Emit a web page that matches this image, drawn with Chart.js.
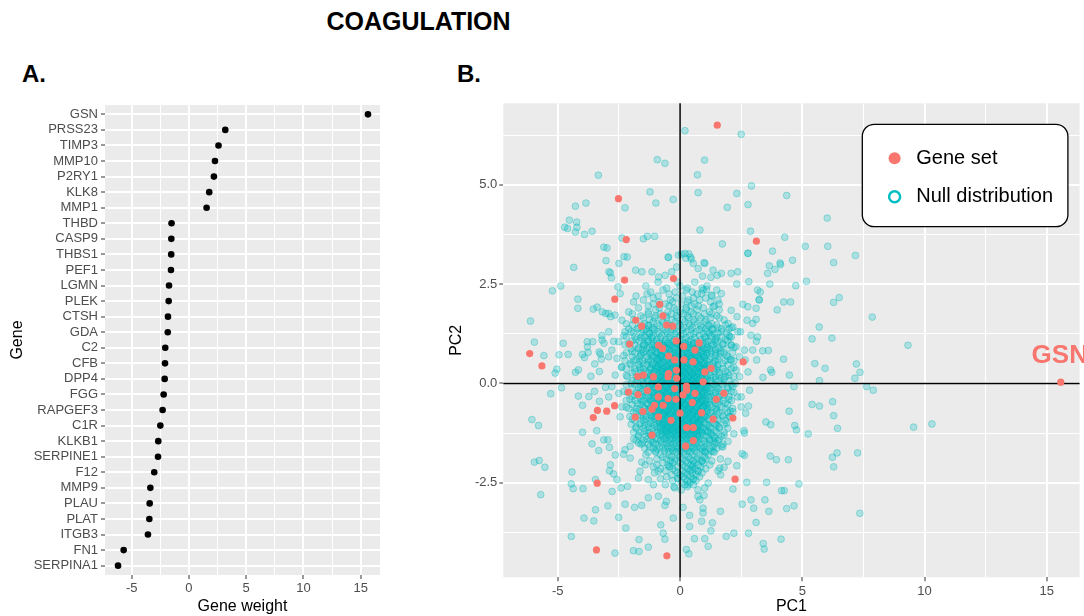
<!DOCTYPE html>
<html><head><meta charset="utf-8">
<script src="https://cdn.jsdelivr.net/npm/chart.js@4.4.1/dist/chart.umd.min.js"></script>
<style>
html,body{margin:0;padding:0;background:#fff;width:1084px;height:616px;overflow:hidden;position:relative;font-family:'Liberation Sans',Arial,sans-serif}
#title{position:absolute;left:0;width:837px;top:7px;text-align:center;font-weight:bold;font-size:25px;line-height:29px;color:#000}
.tag{position:absolute;top:60px;font-weight:bold;font-size:24px;line-height:28px;color:#000}
#cA{position:absolute;left:0;top:90px}
#cB{position:absolute;left:420px;top:90px}
</style></head>
<body>
<div id="title">COAGULATION</div>
<div class="tag" style="left:22px">A.</div>
<div class="tag" style="left:457px">B.</div>
<canvas id="cA" width="400" height="526" style="width:400px;height:526px"></canvas>
<canvas id="cB" width="664" height="526" style="width:664px;height:526px"></canvas>
<script>
// ---------- Panel A data ----------
const genes = ['GSN','PRSS23','TIMP3','MMP10','P2RY1','KLK8','MMP1','THBD','CASP9','THBS1','PEF1','LGMN','PLEK','CTSH','GDA','C2','CFB','DPP4','FGG','RAPGEF3','C1R','KLKB1','SERPINE1','F12','MMP9','PLAU','PLAT','ITGB3','FN1','SERPINA1'];
const weights = [15.63,3.17,2.58,2.27,2.18,1.77,1.54,-1.52,-1.54,-1.55,-1.57,-1.74,-1.77,-1.83,-1.85,-2.07,-2.09,-2.12,-2.21,-2.30,-2.50,-2.68,-2.70,-3.03,-3.37,-3.43,-3.46,-3.58,-5.70,-6.19];
const weightTicks = [-5,-2.5,0,2.5,5,7.5,10,12.5,15];

// ---------- Panel B data ----------
const pc1Ticks = [-5,-2.5,0,2.5,5,7.5,10,12.5,15];
const pc2Ticks = [-3.75,-2.5,-1.25,0,1.25,2.5,3.75,5,6.25];
const geneSetPoints = [
[1.52,6.50],[-2.52,4.65],[-2.20,3.62],[3.12,3.58],[-2.27,2.60],[-0.27,2.64],[-2.67,2.12],[-0.83,1.99],[-0.70,1.70],[-1.81,1.59],[-1.57,1.44],[-0.55,1.47],[-0.30,1.44],[-0.16,1.07],[-2.06,0.99],[0.78,1.02],[0.61,0.84],[-0.88,0.96],[-0.72,0.88],[0.15,0.93],[-0.47,0.69],
[-6.15,0.75],[-5.65,0.44],[2.58,0.54],[15.57,0.03],
[-0.22,0.59],[0.16,0.59],[0.53,0.54],[1.27,0.38],[1.01,0.29],[-0.15,0.33],[-0.47,0.25],[-0.49,0.17],[-1.09,0.17],[-1.73,0.18],[-1.50,0.21],[0.94,0.04],[-0.14,0.13],[-0.89,-0.09],[-0.22,-0.13],[0.26,-0.07],[-2.11,-0.22],[-1.72,-0.28],[-1.34,-0.18],[-0.89,-0.34],[-0.49,-0.38],[-0.17,-0.40],[0.12,-0.29],[0.27,-0.17],[0.61,-0.25],[0.50,-0.48],[1.48,-0.40],[1.79,-0.25],[-0.69,-0.55],[-1.05,-0.55],[-1.52,-0.71],[-1.15,-0.65],[-1.83,-0.85],[-0.88,-0.84],[-0.37,-0.93],[0.0,-0.75],[0.88,-0.74],[1.35,-0.90],[2.16,-0.87],[-1.15,-1.30],[0.27,-1.11],[0.54,-1.11],[0.23,-1.58],[0.54,-1.44],[-2.68,-0.56],[-3.00,-0.70],[-3.38,-0.68],[-3.55,-0.86],[-3.39,-2.51],[-3.42,-4.19],[-0.54,-4.34],[2.25,-2.41]
];
// scattered null-distribution points read one by one
const nullOuter = [
[0.20,6.36],[-0.93,5.63],[-0.62,5.54],[-3.34,5.24],[0.71,5.25],[-1.23,4.82],[0.74,4.80],[-3.85,4.54],[-0.99,4.54],[-0.28,4.63],[-4.28,4.46],[-2.25,4.42],[-4.53,4.11],[-4.72,3.93],[-4.22,3.93],[-4.28,3.81],[-3.91,3.75],[-3.60,3.83],[-2.38,3.66],[-1.50,3.64],[-1.34,3.70],[-1.04,3.70],[-3.12,3.43],[-2.99,3.41],[-3.03,3.09],[-2.29,3.19],[-0.49,3.17],[0.06,3.25],[0.36,3.26],[0.23,3.15],[0.46,3.13],[0.81,3.86],[-4.60,3.90],[-4.23,4.06],
[2.50,6.27],[1.00,5.62],[2.92,4.97],[2.32,4.78],[4.36,4.73],[1.93,4.43],[2.78,4.50],[6.02,4.16],[2.88,3.83],[4.28,3.68],[1.73,3.51],[3.78,3.33],[5.12,3.45],[6.04,3.45],[2.78,3.28],[4.60,3.10],[7.17,3.22],[6.28,3.04],[4.09,3.03],[0.98,3.04],
[-4.35,2.92],[-2.85,2.78],[-2.81,2.66],[-5.22,2.33],[-4.88,2.45],[-4.18,2.12],[-4.18,1.89],[-3.55,1.87],[-3.39,1.92],[-3.18,1.80],[-2.92,1.76],[-2.66,1.72],[-2.38,1.59],[-6.12,1.57],[-5.96,1.04],[-4.78,1.01],[-5.57,0.70],[-4.95,0.72],[-4.58,0.73],[-3.80,1.05],[-3.57,1.05],[-3.76,0.78],[-3.91,0.65],[-3.26,0.74],[-3.22,0.61],[-2.92,0.67],[-3.49,0.49],[-4.16,0.34],[-4.28,0.28],[-5.04,0.36],[-5.11,0.26],[-3.65,0.18],[-2.92,1.30],[-2.72,1.06],[-2.51,1.05],[-2.25,1.30],[-4.85,-0.11],[-5.29,-0.26],[-4.16,-0.32],[-3.99,-0.55],[-3.73,-0.33],[-6.06,-0.91],[-2.54,2.43],[-2.45,2.26],[-3.20,1.20],
[-3.19,1.09],[-2.79,0.84],[-2.58,0.63],[-2.38,0.42],[-2.65,0.21],[-2.79,-0.08],[-2.51,-0.25],[-2.92,-0.34],[-2.38,-0.59],[-2.45,-0.84],[-3.30,0.30],[-3.05,-0.10],[-3.50,-0.20],[-3.30,-0.45],
[-0.47,3.18],[-0.07,3.23],[0.20,3.27],[0.43,3.18],[0.54,3.02],[0.74,2.89],[1.01,3.02],[-1.15,2.81],[-0.88,2.68],[-0.61,2.72],[-0.34,2.81],[-0.14,2.93],[-1.56,2.81],[-1.82,2.85],[-2.16,3.18],[-2.50,3.02],[-2.91,2.81],[1.35,2.85],[1.69,2.77],[2.09,2.77],[2.36,2.81],[2.77,3.27],[3.17,2.35],[3.24,2.10],[3.11,1.89],
[-3.04,1.76],[-2.84,1.68],[-3.99,0.73],[-3.79,0.92],[-3.31,0.79],[-3.11,1.01],
[0.88,2.26],[1.08,2.36],[1.28,2.22],[1.55,2.10],[1.35,1.93],[1.69,2.26],[2.09,1.84],[2.33,1.68],[1.96,1.51],[2.16,1.42],[2.36,1.30],[2.03,1.17],[2.09,0.96],[2.29,0.92],[2.43,0.67],[2.09,0.59],[2.29,0.33],[2.43,0.17],[2.16,-0.08],[2.36,-0.34],[2.50,-0.59],[2.16,-0.71],[2.03,-0.84],[2.63,0.84],[2.97,0.84],[2.90,1.21],[3.17,1.17],
[3.65,2.96],[4.11,2.99],[3.88,2.87],[3.58,2.77],[1.52,2.72],[1.26,2.67],[0.92,2.70],[2.81,2.56],[2.32,2.50],[3.67,2.50],[4.73,2.46],[5.17,2.57],[3.28,2.30],[3.23,2.11],[4.24,2.05],[4.52,2.05],[6.28,2.04],[6.51,2.16],[7.86,1.67],[3.97,1.85],[5.69,1.42],[5.40,1.12],[6.21,1.14],[3.12,1.06],[3.38,0.82],[3.61,0.83],[4.23,0.61],[5.51,0.50],[5.93,0.38],[7.21,0.49],[7.36,0.28],[7.15,0.13],[5.70,0.07],[4.47,0.21],[3.75,0.28],[3.70,0.34],[4.66,-0.08],[7.63,-0.08],[7.90,-0.17],[5.40,-0.53],[5.70,-0.57],[6.24,-0.46],[6.28,-0.81],[4.46,-0.70],[2.80,-0.57],[2.68,-0.75],[3.39,0.15],[2.66,0.59],[3.13,0.59],[2.78,0.29],[2.84,-0.17],[2.50,-0.34],[2.74,1.59],[2.97,1.51],[3.11,1.61],[2.47,1.30],[2.57,1.99],[2.77,1.93],
[9.32,0.96],[9.55,-1.10],[10.30,-1.02],
[-5.79,-1.06],[-3.99,-1.23],[-3.41,-1.19],[-3.60,-1.52],[-3.33,-1.69],[-3.12,-1.42],[-2.95,-1.42],[-2.89,-1.61],[-2.65,-1.80],[-2.31,-1.78],[-5.96,-1.98],[-5.76,-1.94],[-5.53,-2.11],[-4.42,-2.23],[-4.45,-2.53],[-4.37,-2.65],[-3.97,-2.65],[-5.70,-2.80],[-3.46,-2.42],[-2.85,-2.05],[-2.89,-2.20],[-2.72,-2.28],[-2.58,-2.42],[-2.78,-2.72],[-2.41,-2.63],[-2.15,-2.59],[-3.46,-3.18],[-3.93,-3.39],[-3.53,-3.46],[-2.95,-3.08],[-2.51,-3.37],[-2.22,-3.64],[-2.25,-3.04],[-1.86,-3.12],[-1.57,-3.07],[-4.45,-3.85],[-2.66,-4.27],[-1.91,-4.21],[-1.68,-4.23],[-1.68,-3.93],[-1.30,-4.12],[-0.79,-3.56],[-0.69,-3.77],[-0.62,-3.92],[-0.28,-3.39],[-1.30,-2.88],[-0.89,-2.84],[-0.62,-3.07],[-0.56,-2.97],[0.26,-4.18],[0.36,-4.29],[0.12,-3.12],[0.39,-3.32],[0.39,-3.60],[0.59,-3.91],[0.73,-2.84],[-1.70,-2.38],[-1.30,-2.42],[-1.09,-2.55],[-0.89,-2.21],[-1.64,-2.21],[-1.43,-2.05],[-1.57,-1.98],[-2.04,-1.88],[-2.25,-1.67],[-2.04,-1.58],[-1.90,-1.40],[-1.70,-1.50],[-0.08,-2.38],[-0.22,-2.63],[0.05,-2.68],[0.32,-2.55],[0.53,-2.42],[0.73,-2.68],[0.46,-2.17],[0.53,-2.05],[0.73,-2.21],[-0.22,-1.96],[-0.42,-2.09],
[3.51,-0.97],[3.71,-1.04],[4.69,-1.06],[4.76,-1.17],[5.24,-1.27],[6.44,-1.13],[2.61,-1.19],[2.63,-1.25],[2.20,-1.27],[2.54,-1.77],[2.63,-1.81],[3.69,-1.83],[3.94,-1.92],[4.43,-1.92],[6.23,-1.86],[6.42,-1.75],[7.26,-1.75],[6.28,-2.10],[2.32,-2.07],[1.65,-1.90],[1.80,-2.11],[1.66,-2.30],[1.55,-2.20],[1.15,-2.51],[1.01,-2.63],[0.98,-2.82],[0.81,-2.93],[2.16,-2.66],[2.73,-2.49],[3.54,-2.49],[4.15,-2.70],[4.26,-2.70],[4.86,-2.53],[2.90,-2.93],[3.47,-2.93],[2.54,-3.04],[3.01,-3.14],[3.63,-3.22],[4.36,-3.15],[4.66,-3.08],[7.35,-3.27],[3.11,-3.50],[2.80,-3.77],[2.20,-3.77],[1.89,-3.85],[0.94,-3.14],[0.94,-3.26],[0.88,-3.47],[1.32,-3.51],[1.26,-3.71],[1.01,-3.91],[1.15,-4.10],[3.40,-4.03],[3.44,-4.17],[4.13,-3.92],[1.65,-3.22],
[1.15,-1.21],[1.42,-1.38],[1.69,-1.58],[1.96,-1.46],[1.01,-1.71],[1.35,-1.71],[0.88,-1.96],[1.22,-2.05],[1.62,-2.13],[1.96,-1.96]
];
// dense core of the null distribution: each row is [PC2, PC1, PC1, ...]
const nullCoreRows = [
[2.4,-0.55,0.3,0.9],[2.3,-1.2,-0.2,0.5],[2.2,-1.8,-0.9,0.1,1.3],[2.1,-1.5,-0.4,0.35,0.8],[2.0,-1.1,-0.6,0.05,0.6,1.6],
[1.9,-1.7,-0.85,-0.25,0.25,0.95],[1.8,-2.1,-1.3,-0.5,0.0,0.45,1.2],[1.7,-1.6,-1.0,-0.6,-0.15,0.3,0.75,1.5],
[1.6,-1.9,-1.25,-0.75,-0.35,0.1,0.55,1.05,1.8],[1.5,-2.2,-1.45,-0.95,-0.5,-0.05,0.35,0.7,1.3],
[1.4,-1.7,-1.15,-0.7,-0.3,0.15,0.5,0.9,1.55,2.1],[1.3,-2.0,-1.35,-0.9,-0.55,-0.15,0.25,0.65,1.1,1.7],
[1.2,-2.3,-1.55,-1.1,-0.75,-0.4,0.0,0.4,0.8,1.25,2.0],[1.1,-1.8,-1.3,-0.95,-0.6,-0.25,0.1,0.45,0.85,1.45,1.85],
[1.0,-2.1,-1.5,-1.05,-0.7,-0.45,-0.1,0.2,0.55,0.95,1.3,1.75],[0.9,-1.7,-1.25,-0.85,-0.55,-0.2,0.1,0.35,0.7,1.1,1.6,2.2],
[0.8,-1.95,-1.4,-1.0,-0.65,-0.35,-0.05,0.25,0.6,0.9,1.25,1.65],[0.7,-2.3,-1.6,-1.15,-0.8,-0.5,-0.2,0.1,0.4,0.75,1.05,1.45,1.9],
[0.6,-1.8,-1.3,-0.95,-0.65,-0.3,0.0,0.25,0.55,0.85,1.2,1.55,2.05],[0.5,-2.05,-1.5,-1.1,-0.8,-0.45,-0.15,0.15,0.45,0.7,1.0,1.35,1.75],
[0.4,-2.4,-1.65,-1.2,-0.9,-0.6,-0.3,0.0,0.3,0.6,0.9,1.2,1.55,2.2],[0.3,-1.85,-1.4,-1.05,-0.75,-0.45,-0.15,0.15,0.4,0.75,1.05,1.4,1.85],
[0.2,-2.2,-1.55,-1.2,-0.9,-0.6,-0.3,0.05,0.3,0.55,0.9,1.25,1.6,2.0],[0.1,-1.75,-1.35,-1.0,-0.7,-0.4,-0.1,0.2,0.45,0.75,1.1,1.45,1.8],
[0.0,-2.0,-1.5,-1.15,-0.85,-0.55,-0.25,0.05,0.35,0.65,0.95,1.3,1.7,2.25],[-0.1,-1.7,-1.3,-1.0,-0.7,-0.4,-0.1,0.2,0.5,0.8,1.15,1.5,1.95],
[-0.2,-2.3,-1.55,-1.2,-0.9,-0.6,-0.3,0.0,0.3,0.6,0.9,1.25,1.65,2.1],[-0.3,-1.85,-1.4,-1.05,-0.75,-0.45,-0.15,0.15,0.45,0.75,1.05,1.4,1.8],
[-0.4,-2.05,-1.6,-1.25,-0.9,-0.6,-0.3,0.0,0.3,0.6,0.9,1.2,1.55,2.0],[-0.5,-1.75,-1.35,-1.05,-0.75,-0.45,-0.15,0.15,0.45,0.75,1.1,1.45,1.85],
[-0.6,-2.2,-1.5,-1.2,-0.9,-0.6,-0.3,0.05,0.35,0.65,0.95,1.3,1.7],[-0.7,-1.8,-1.35,-1.0,-0.7,-0.4,-0.1,0.2,0.5,0.8,1.1,1.5,2.05],
[-0.8,-1.6,-1.2,-0.85,-0.55,-0.25,0.05,0.35,0.65,0.95,1.3,1.75],[-0.9,-1.95,-1.4,-1.05,-0.7,-0.4,-0.1,0.2,0.5,0.8,1.15,1.55],
[-1.0,-1.6,-1.2,-0.85,-0.55,-0.25,0.1,0.4,0.7,1.0,1.4,1.9],[-1.1,-1.8,-1.3,-0.95,-0.65,-0.35,-0.05,0.25,0.55,0.85,1.2,1.6],
[-1.2,-1.45,-1.05,-0.75,-0.45,-0.15,0.15,0.45,0.75,1.05,1.45],[-1.3,-1.7,-1.2,-0.85,-0.55,-0.25,0.05,0.35,0.65,0.95,1.3,1.8],
[-1.4,-1.35,-0.95,-0.65,-0.35,-0.05,0.25,0.55,0.85,1.2,1.6],[-1.5,-1.55,-1.1,-0.75,-0.45,-0.15,0.15,0.45,0.75,1.05,1.45],
[-1.6,-1.25,-0.85,-0.5,-0.2,0.1,0.4,0.7,1.0,1.35,1.75],[-1.7,-1.0,-0.65,-0.3,0.0,0.3,0.6,0.9,1.25],
[-1.8,-1.4,-0.8,-0.45,-0.1,0.2,0.5,0.8,1.15],[-1.9,-0.95,-0.55,-0.2,0.1,0.4,0.7,1.05],
[-2.0,-0.7,-0.3,0.0,0.3,0.6,0.95],[-2.1,-1.1,-0.45,-0.1,0.2,0.5,0.85],[-2.2,-0.6,-0.2,0.1,0.4,0.75],
[-2.3,-0.35,0.0,0.3,0.65],[-2.4,-0.8,-0.1,0.2,0.55],[-2.5,0.05,0.4],[-2.6,-0.25,0.3],
[0.85,-1.55,-1.15,-0.8,-0.45,-0.1,0.2,0.5,0.8,1.1,1.45],[0.65,-1.0,-0.7,-0.4,-0.05,0.2,0.45,0.7,1.0],[0.45,-1.0,-0.7,-0.5,-0.2,0.05,0.25,0.5,0.8,1.1],
[0.25,-1.1,-0.85,-0.55,-0.25,0.0,0.25,0.5,0.7,0.95],[0.05,-1.05,-0.8,-0.5,-0.2,0.1,0.3,0.55,0.8,1.0],
[-0.15,-1.0,-0.75,-0.45,-0.2,0.1,0.35,0.6,0.85,1.05],[-0.35,-1.1,-0.85,-0.55,-0.3,-0.05,0.2,0.5,0.7,0.95],
[-0.55,-0.95,-0.6,-0.3,0.0,0.25,0.5,0.8,1.05],[-0.75,-1.0,-0.7,-0.45,-0.15,0.1,0.35,0.6,0.9],
[-0.95,-0.85,-0.55,-0.25,0.05,0.35,0.6,0.85],[-1.15,-0.7,-0.4,-0.1,0.2,0.5,0.75],[-1.35,-0.55,-0.2,0.1,0.4,0.7],
[1.55,-1.1,-0.7,-0.2,0.2,0.6,1.0],[1.45,-1.3,-0.85,-0.4,0.0,0.4,0.85,1.2],[1.35,-1.5,-1.05,-0.6,-0.25,0.1,0.45,0.8,1.3],
[1.25,-1.25,-0.85,-0.5,-0.2,0.15,0.55,0.95,1.4],[1.15,-1.6,-1.15,-0.8,-0.45,-0.1,0.25,0.6,1.05,1.5],
[1.05,-1.35,-0.95,-0.6,-0.3,0.0,0.35,0.7,1.05,1.45],[0.95,-1.5,-1.1,-0.75,-0.4,-0.05,0.25,0.55,0.9,1.3],
[0.75,-1.6,-1.25,-0.95,-0.65,-0.35,-0.05,0.3,0.6,0.95,1.3,1.65],[0.55,-1.65,-1.3,-0.95,-0.6,-0.25,0.1,0.4,0.65,1.0,1.4],
[0.35,-1.6,-1.25,-0.95,-0.65,-0.35,-0.05,0.25,0.55,0.85,1.15,1.5],[0.15,-1.7,-1.35,-1.05,-0.75,-0.45,-0.15,0.15,0.45,0.7,1.0,1.35,1.7],
[-0.05,-1.6,-1.25,-0.95,-0.65,-0.35,-0.05,0.25,0.5,0.8,1.1,1.45],[-0.25,-1.7,-1.35,-1.05,-0.7,-0.4,-0.1,0.2,0.45,0.7,1.0,1.35,1.7],
[-0.45,-1.55,-1.2,-0.85,-0.55,-0.25,0.05,0.35,0.65,0.95,1.25,1.6],[-0.65,-1.65,-1.3,-1.0,-0.65,-0.35,-0.05,0.25,0.55,0.85,1.15,1.5],
[-0.85,-1.5,-1.15,-0.85,-0.5,-0.2,0.1,0.4,0.7,1.0,1.35],[-1.05,-1.45,-1.05,-0.7,-0.4,-0.1,0.2,0.5,0.8,1.15,1.5],
[-1.25,-1.3,-0.95,-0.6,-0.3,0.0,0.3,0.6,0.9,1.25],[-1.45,-1.1,-0.8,-0.5,-0.2,0.1,0.4,0.7,1.0,1.35],
[-1.65,-0.95,-0.6,-0.3,0.0,0.3,0.6,0.9],[-1.85,-0.7,-0.35,0.0,0.35,0.7,1.0],
[1.02,-0.85,-0.5,-0.15,0.2,0.55],[0.92,-1.0,-0.65,-0.3,0.05,0.45,0.75],[0.78,-0.9,-0.55,-0.2,0.15,0.5,0.85],
[0.68,-1.1,-0.8,-0.45,-0.1,0.3,0.6,0.95],[0.58,-0.85,-0.5,-0.2,0.2,0.5,0.8],[0.48,-1.15,-0.85,-0.35,-0.05,0.35,0.65,0.95],
[0.38,-1.0,-0.7,-0.4,-0.1,0.2,0.45,0.75,1.05],[0.28,-0.95,-0.65,-0.35,-0.05,0.2,0.6,0.85],[0.18,-1.1,-0.8,-0.5,-0.2,0.1,0.4,0.6,0.9],
[0.08,-0.95,-0.65,-0.35,-0.05,0.25,0.5,0.75,1.05],[-0.02,-1.1,-0.75,-0.45,-0.15,0.15,0.45,0.7,0.95],[-0.12,-0.9,-0.6,-0.3,0.0,0.25,0.55,0.8,1.1],
[-0.22,-1.05,-0.75,-0.45,-0.15,0.15,0.4,0.65,0.95],[-0.32,-0.95,-0.65,-0.35,-0.1,0.2,0.5,0.8,1.1],[-0.42,-1.1,-0.8,-0.5,-0.2,0.1,0.35,0.65,0.9],
[-0.52,-0.95,-0.65,-0.35,-0.05,0.2,0.5,0.75,1.0],[-0.62,-1.05,-0.75,-0.45,-0.15,0.15,0.45,0.7,0.95],[-0.72,-0.9,-0.6,-0.3,0.0,0.3,0.55,0.8,1.1],
[-0.82,-1.0,-0.7,-0.4,-0.1,0.2,0.5,0.75,1.0],[-0.92,-0.9,-0.6,-0.3,0.0,0.25,0.55,0.85],[-1.02,-0.95,-0.65,-0.35,-0.05,0.3,0.55,0.8],
[-1.12,-0.8,-0.5,-0.2,0.1,0.4,0.65,0.95],[-1.22,-0.9,-0.55,-0.25,0.05,0.35,0.6,0.85],[-1.32,-0.7,-0.4,-0.1,0.2,0.5,0.8],
[-1.42,-0.8,-0.45,-0.15,0.15,0.45,0.75],[-1.52,-0.55,-0.25,0.05,0.35,0.65],[-1.62,-0.7,-0.35,-0.05,0.25,0.55,0.85],
[-1.72,-0.45,-0.15,0.15,0.45],
[1.47,-1.95,-1.6,-1.3,1.15,1.5,1.85],[1.37,-2.1,-1.75,-1.4,-1.1,1.05,1.35,1.7,2.0],[1.27,-1.9,-1.6,-1.25,1.2,1.55,1.9],
[1.17,-2.2,-1.85,-1.45,-1.15,1.0,1.3,1.7,2.1],[1.07,-1.95,-1.65,-1.3,1.15,1.55,1.95],[0.97,-2.25,-1.85,-1.45,-1.15,1.05,1.35,1.75,2.1],
[0.87,-2.0,-1.7,-1.35,1.2,1.55,1.9],[0.77,-2.2,-1.85,-1.5,-1.2,1.1,1.45,1.8,2.15],[0.67,-1.95,-1.65,-1.35,1.25,1.6,1.95],
[0.57,-2.25,-1.9,-1.55,-1.2,1.1,1.45,1.85,2.2],[0.47,-2.0,-1.7,-1.35,1.2,1.55,1.95],[0.37,-2.2,-1.85,-1.5,-1.2,1.05,1.4,1.75,2.1],
[0.27,-1.95,-1.6,-1.3,1.2,1.6,1.95],[0.17,-2.15,-1.8,-1.45,-1.15,1.1,1.45,1.85,2.2],[0.07,-1.95,-1.6,-1.3,1.25,1.6,2.0],
[-0.03,-2.2,-1.85,-1.5,-1.2,1.05,1.4,1.75,2.1],[-0.13,-1.95,-1.6,-1.3,1.2,1.55,1.95],[-0.23,-2.15,-1.8,-1.45,-1.15,1.1,1.45,1.85,2.2],
[-0.33,-1.95,-1.6,-1.3,1.25,1.6,2.0],[-0.43,-2.2,-1.85,-1.5,-1.2,1.05,1.4,1.75,2.1],[-0.53,-1.95,-1.6,-1.3,1.2,1.55,1.95],
[-0.63,-2.1,-1.8,-1.45,-1.15,1.1,1.45,1.85,2.15],[-0.73,-1.9,-1.55,-1.25,1.25,1.6,1.95],[-0.83,-2.05,-1.75,-1.4,-1.1,1.05,1.4,1.75,2.05],
[-0.93,-1.85,-1.5,-1.2,1.2,1.55,1.85],[-1.03,-2.0,-1.65,-1.3,1.1,1.45,1.8],[-1.13,-1.8,-1.5,-1.15,1.25,1.6,1.95],
[-1.23,-1.9,-1.6,-1.25,1.15,1.5,1.8],[-1.33,-1.7,-1.4,-1.1,1.1,1.4,1.7],[-1.43,-1.8,-1.5,-1.2,1.2,1.55],
[-1.53,-1.6,-1.3,-1.0,1.1,1.4,1.75],[-1.63,-1.45,-1.1,1.2,1.5],[-1.73,-1.3,-1.0,1.05,1.4],
[0.97,-0.7,-0.35,0.0,0.35,0.7],[0.87,-0.95,-0.6,-0.25,0.1,0.4,0.7,1.0],[0.73,-0.75,-0.4,-0.05,0.3,0.65,0.95],
[0.63,-0.9,-0.55,-0.25,0.1,0.4,0.75],[0.53,-0.7,-0.35,0.0,0.3,0.6,0.9],[0.43,-0.9,-0.55,-0.25,0.1,0.45,0.75],
[0.33,-0.8,-0.5,-0.2,0.1,0.35,0.65,0.95],[0.23,-0.7,-0.4,-0.1,0.2,0.5,0.8],[0.13,-0.9,-0.6,-0.3,0.0,0.3,0.55,0.85],
[0.03,-0.75,-0.45,-0.15,0.15,0.4,0.7,0.95],[-0.07,-0.85,-0.55,-0.25,0.05,0.35,0.65,0.9],[-0.17,-0.7,-0.4,-0.1,0.2,0.5,0.75],
[-0.27,-0.85,-0.55,-0.25,0.05,0.35,0.6,0.9],[-0.37,-0.75,-0.45,-0.15,0.15,0.45,0.75],[-0.47,-0.9,-0.6,-0.3,0.0,0.3,0.55,0.85],
[-0.57,-0.75,-0.45,-0.15,0.15,0.4,0.7,0.95],[-0.67,-0.85,-0.55,-0.25,0.05,0.35,0.65],[-0.77,-0.7,-0.4,-0.1,0.2,0.45,0.75],
[-0.87,-0.85,-0.55,-0.25,0.05,0.35,0.65,0.9],[-0.97,-0.7,-0.4,-0.1,0.2,0.5,0.75],[-1.07,-0.8,-0.5,-0.2,0.1,0.4,0.7],
[-1.17,-0.6,-0.3,0.0,0.3,0.6,0.9],[-1.27,-0.75,-0.45,-0.15,0.15,0.45,0.7],
[2.55,-0.9,-0.1,0.6],[2.45,-1.4,0.0,1.1],[2.35,-0.7,0.25,0.95,1.5],[2.25,-1.35,-0.45,0.7],[2.15,-1.1,-0.15,0.55,1.05],
[2.05,-1.9,-0.85,-0.3,0.3,1.25],[1.95,-1.3,-0.45,0.45,0.75,1.4],[1.85,-1.0,-0.15,0.25,0.7,1.6],
[1.75,-1.95,-1.3,-0.8,-0.35,0.15,0.55,1.0,1.3],[1.65,-1.5,-1.05,-0.55,-0.1,0.35,0.85,1.25,1.6],
[-1.95,-1.25,-0.4,0.25,0.55,0.9,1.3],[-2.05,-0.95,-0.5,0.1,0.45,0.75],[-2.15,-0.8,-0.3,0.3,0.6,1.05],
[-2.25,-1.05,-0.1,0.2,0.5,0.9],[-2.35,-0.55,0.15,0.45,0.8],[-2.45,-0.3,0.3,0.65],[-2.55,-0.6,0.2,0.55]
];

const FONT = "'Liberation Sans', Arial, Helvetica, sans-serif";
Chart.defaults.font.family = FONT;
const RED = '#F8766D', TEAL = '#00BFC4';

const bgPlugin = {id:'panelBg', beforeDraw(c){const {ctx, chartArea:a} = c; ctx.save(); ctx.fillStyle='#EBEBEB'; ctx.fillRect(a.left,a.top,a.right-a.left,a.bottom-a.top); ctx.restore();}};
const isMult = (v, s) => Math.abs(v/s - Math.round(v/s)) < 1e-6;

// ---------- Panel A ----------
new Chart(document.getElementById('cA'), {
  type: 'scatter',
  data: { datasets: [{
    data: genes.map((g,i) => ({x: weights[i], y: genes.length - i})),
    backgroundColor: '#000', pointRadius: 3.3, borderWidth: 0, pointHoverRadius: 3.3
  }]},
  options: {
    responsive: false, animation: false, events: [],
    layout: {padding: {top: 15, right: 20, left: 0, bottom: 0}},
    plugins: {legend: {display: false}, tooltip: {enabled: false}},
    scales: {
      x: {type: 'linear', min: -7.33, max: 16.68,
        afterBuildTicks: s => { s.ticks = weightTicks.map(v => ({value: v})); },
        afterFit: s => { s.height = 41; },
        ticks: {callback: v => isMult(v,5) ? String(v) : '', color: '#4D4D4D', font: {size: 13}, padding: 2, maxRotation: 0, autoSkip: false},
        grid: {color: '#FFFFFF', lineWidth: c => isMult(c.tick.value,5) ? 2 : 1, tickLength: 4, tickWidth: 1,
               tickColor: c => isMult(c.tick.value,5) ? '#333333' : 'rgba(0,0,0,0)'},
        border: {display: false},
        title: {display: true, text: 'Gene weight', color: '#000', font: {size: 16}, padding: {top: 0, bottom: 0}}
      },
      y: {type: 'linear', min: 0.4, max: genes.length + 0.6,
        afterBuildTicks: s => { s.ticks = genes.map((g,i) => ({value: genes.length - i})); },
        afterFit: s => { s.width = 105; },
        ticks: {callback: v => genes[genes.length - v], color: '#4D4D4D', font: {size: 13}, padding: 3, autoSkip: false},
        grid: {color: '#FFFFFF', lineWidth: 2, tickLength: 4, tickWidth: 1, tickColor: '#333333'},
        border: {display: false},
        title: {display: true, text: 'Gene', color: '#000', font: {size: 16}, padding: {top: 8, bottom: 0}}
      }
    }
  },
  plugins: [bgPlugin]
});

// ---------- Panel B ----------
const zeroLines = {id:'zeroLines', afterDatasetDraw(c, args){
  if (args.index !== 1) return;
  const {ctx, chartArea:a, scales:{x, y}} = c;
  const x0 = x.getPixelForValue(0), y0 = y.getPixelForValue(0);
  ctx.save(); ctx.strokeStyle = '#000'; ctx.lineWidth = 1.5;
  ctx.beginPath(); ctx.moveTo(x0, a.top); ctx.lineTo(x0, a.bottom); ctx.moveTo(a.left, y0); ctx.lineTo(a.right, y0); ctx.stroke();
  ctx.restore();
}};
const labelAndLegend = {id:'labelAndLegend', afterDatasetsDraw(c){
  const {ctx, chartArea:a, scales:{x, y}} = c;
  // label the top-weighted gene (GSN) at its gene-set point
  let best = geneSetPoints[0];
  geneSetPoints.forEach(p => { if (p[0] > best[0]) best = p; });
  const px = x.getPixelForValue(best[0]), py = y.getPixelForValue(best[1]);
  ctx.save();
  ctx.fillStyle = RED; ctx.font = 'bold 26px ' + FONT; ctx.textAlign = 'center'; ctx.textBaseline = 'middle';
  ctx.fillText(genes[0], px - 1, py - 26);
  // legend box
  const L = a.right - 217.3, T = a.top + 21, W = 205.6, H = 102.4;
  ctx.beginPath(); ctx.roundRect(L, T, W, H, 12);
  ctx.fillStyle = '#FFFFFF'; ctx.fill(); ctx.lineWidth = 1.3; ctx.strokeStyle = '#000'; ctx.stroke();
  ctx.beginPath(); ctx.arc(L + 32.3, T + 34, 6, 0, Math.PI*2); ctx.fillStyle = RED; ctx.fill();
  ctx.beginPath(); ctx.arc(L + 32.3, T + 72.4, 5.5, 0, Math.PI*2); ctx.lineWidth = 2.5; ctx.strokeStyle = TEAL; ctx.stroke();
  ctx.fillStyle = '#000'; ctx.font = '20px ' + FONT; ctx.textAlign = 'left'; ctx.textBaseline = 'middle';
  ctx.fillText('Gene set', L + 54, T + 34);
  ctx.fillText('Null distribution', L + 54, T + 72.4);
  ctx.restore();
}};

const nullPoints = nullOuter.map(p => ({x: p[0], y: p[1]}));
nullCoreRows.forEach(r => { for (let i = 1; i < r.length; i++) nullPoints.push({x: r[i], y: r[0]}); });

new Chart(document.getElementById('cB'), {
  type: 'scatter',
  data: { datasets: [
    {label: 'Gene set', data: geneSetPoints.map(p => ({x: p[0], y: p[1]})), backgroundColor: RED, pointRadius: 3.6, borderWidth: 0, pointHoverRadius: 3.6},
    {label: 'Null distribution', data: nullPoints, backgroundColor: 'rgba(0,191,196,0.27)', borderColor: 'rgba(0,175,180,0.33)', borderWidth: 1, pointRadius: 3.4, pointHoverRadius: 3.4}
  ]},
  options: {
    responsive: false, animation: false, events: [],
    layout: {padding: {top: 13.3, right: 0, left: 0, bottom: 0}},
    plugins: {legend: {display: false}, tooltip: {enabled: false}},
    scales: {
      x: {type: 'linear', min: -7.23, max: 16.34,
        afterBuildTicks: s => { s.ticks = pc1Ticks.map(v => ({value: v})); },
        afterFit: s => { s.height = 38.7; },
        ticks: {callback: v => isMult(v,5) ? String(v) : '', color: '#4D4D4D', font: {size: 13}, padding: 2, maxRotation: 0, autoSkip: false},
        grid: {color: '#FFFFFF', lineWidth: c => isMult(c.tick.value,5) ? 2 : 1, tickLength: 4, tickWidth: 1,
               tickColor: c => isMult(c.tick.value,5) ? '#333333' : 'rgba(0,0,0,0)'},
        border: {display: false},
        title: {display: true, text: 'PC1', color: '#000', font: {size: 16}, padding: {top: 0, bottom: 0}}
      },
      y: {type: 'linear', min: -4.88, max: 7.05,
        afterBuildTicks: s => { s.ticks = pc2Ticks.map(v => ({value: v})); },
        afterFit: s => { s.width = 83.3; },
        ticks: {callback: v => isMult(v,2.5) ? v.toFixed(1) : '', color: '#4D4D4D', font: {size: 13}, padding: 2, autoSkip: false},
        grid: {color: '#FFFFFF', lineWidth: c => isMult(c.tick.value,2.5) ? 2 : 1, tickLength: 4, tickWidth: 1,
               tickColor: c => isMult(c.tick.value,2.5) ? '#333333' : 'rgba(0,0,0,0)'},
        border: {display: false},
        title: {display: true, text: 'PC2', color: '#000', font: {size: 16}, padding: {top: 27, bottom: 0}}
      }
    }
  },
  plugins: [bgPlugin, zeroLines, labelAndLegend]
});
</script>
</body></html>
